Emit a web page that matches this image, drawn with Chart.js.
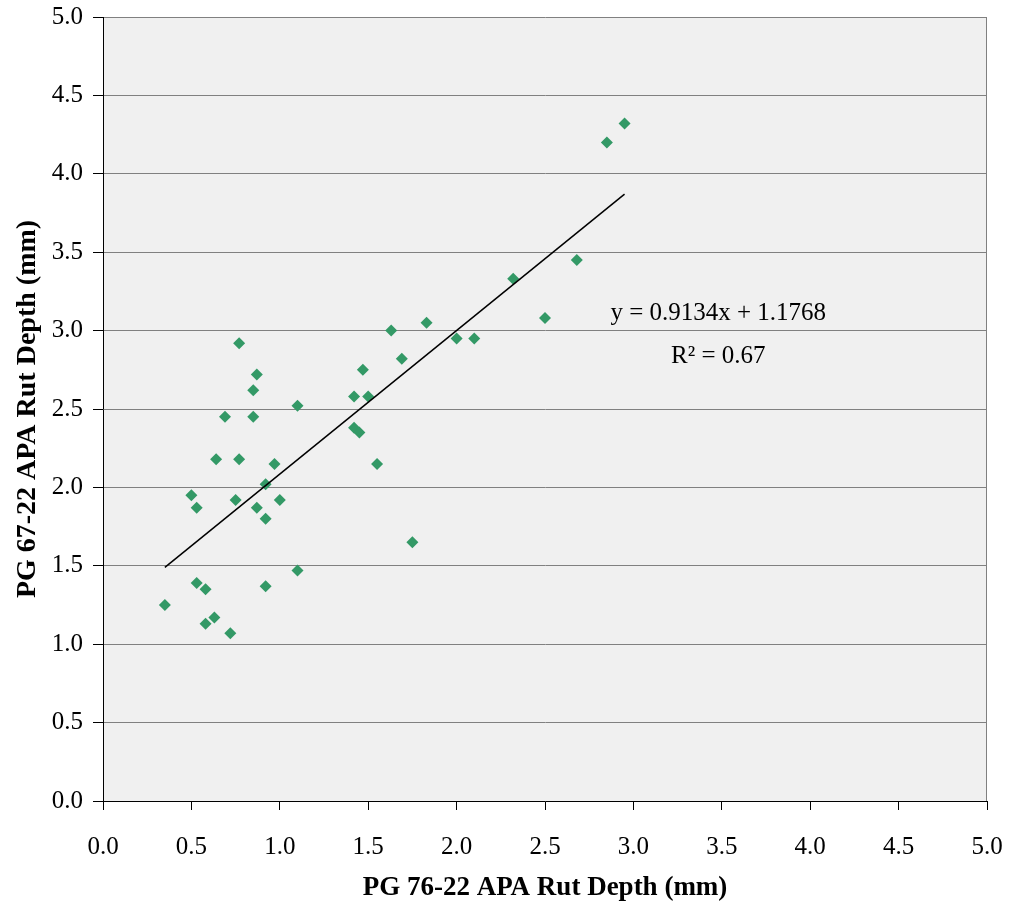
<!DOCTYPE html>
<html>
<head>
<meta charset="utf-8">
<script src="https://cdn.jsdelivr.net/npm/chart.js@4.4.1/dist/chart.umd.min.js"></script>
<style>
  html, body { margin: 0; padding: 0; background: #ffffff; }
  #wrap { width: 1012px; height: 909px; position: relative; }
</style>
</head>
<body>
<div id="wrap"><canvas id="c" width="1012" height="909"></canvas></div>
<script>
// PG 76-22 APA rut depth (x) and PG 67-22 APA rut depth (y), mm
const pg7622 = [0.35, 0.50, 0.53, 0.53, 0.58, 0.58, 0.63, 0.72, 0.64, 0.69, 0.77, 0.77, 0.75, 0.85,
                0.87, 0.85, 0.87, 0.92, 0.92, 0.92, 0.97, 1.00, 1.10, 1.10, 1.42, 1.42, 1.45, 1.47,
                1.50, 1.55, 1.63, 1.69, 1.75, 1.83, 2.00, 2.10, 2.32, 2.50, 2.68, 2.85, 2.95];
const pg6722 = [1.25, 1.95, 1.87, 1.39, 1.35, 1.13, 1.17, 1.07, 2.18, 2.45, 2.92, 2.18, 1.92, 2.62,
                2.72, 2.45, 1.87, 2.02, 1.80, 1.37, 2.15, 1.92, 2.52, 1.47, 2.58, 2.38, 2.35, 2.75,
                2.58, 2.15, 3.00, 2.82, 1.65, 3.05, 2.95, 2.95, 3.33, 3.08, 3.45, 4.20, 4.32];
// Linear trend line end points (as drawn)
const trendX = [0.35, 2.95];
const trendY = [1.49, 3.87];
const trendLabel = ["y = 0.9134x + 1.1768", "R\u00B2 = 0.67"];
const xTitle = "PG 76-22 APA Rut Depth (mm)";
const yTitle = "PG 67-22 APA Rut Depth (mm)";

const FONT = '"Liberation Serif", "Times New Roman", serif';

const scatterData = pg7622.map((x, i) => ({ x: x, y: pg6722[i] }));
const trendData = trendX.map((x, i) => ({ x: x, y: trendY[i] }));

const decor = {
  id: 'decor',
  beforeDraw(chart) {
    const { ctx, chartArea: a } = chart;
    ctx.save();
    ctx.fillStyle = '#F0F0F0';
    ctx.fillRect(a.left, a.top, a.right - a.left, a.bottom - a.top);
    ctx.restore();
  },
  afterDatasetsDraw(chart) {
    const { ctx, chartArea: a, scales } = chart;
    ctx.save();
    ctx.strokeStyle = '#808080';
    ctx.lineWidth = 1;
    ctx.beginPath();
    ctx.moveTo(Math.round(a.right) - 0.5, a.top);
    ctx.lineTo(Math.round(a.right) - 0.5, a.bottom);
    ctx.stroke();
    ctx.fillStyle = '#000';
    ctx.font = '25px ' + FONT;
    ctx.textAlign = 'center';
    ctx.textBaseline = 'alphabetic';
    const cx = scales.x.getPixelForValue(3.48);
    ctx.fillText(trendLabel[0], cx, scales.y.getPixelForValue(3.07));
    ctx.fillText(trendLabel[1], cx, scales.y.getPixelForValue(2.795));
    ctx.restore();
  }
};

new Chart(document.getElementById('c'), {
  type: 'scatter',
  data: {
    datasets: [
      {
        label: 'data',
        data: scatterData,
        pointStyle: 'rectRot',
        pointRadius: 6,
        pointHoverRadius: 6,
        backgroundColor: '#339966',
        borderColor: '#339966',
        borderWidth: 0,
        order: 2
      },
      {
        label: 'trend',
        type: 'line',
        data: trendData,
        borderColor: '#000000',
        borderWidth: 1.5,
        pointRadius: 0,
        fill: false,
        order: 1
      }
    ]
  },
  options: {
    responsive: false,
    animation: false,
    devicePixelRatio: 1,
    layout: { padding: { left: 0, right: 25, top: 17, bottom: 0 } },
    plugins: { legend: { display: false }, tooltip: { enabled: false } },
    scales: {
      x: {
        type: 'linear',
        min: 0, max: 5,
        afterFit(s) { s.height = 108; s.paddingLeft = 0; s.paddingRight = 0; },
        ticks: {
          stepSize: 0.5,
          color: '#000',
          padding: 22,
          maxRotation: 0,
          font: { family: FONT, size: 25 },
          callback: v => Number(v).toFixed(1)
        },
        grid: { drawOnChartArea: false, tickLength: 9, color: '#000', tickColor: '#000' },
        border: { color: '#000', width: 1 },
        title: {
          display: true,
          text: xTitle,
          color: '#000',
          font: { family: FONT, size: 27, weight: 'bold' },
          padding: { top: 0, bottom: 5 }
        }
      },
      y: {
        type: 'linear',
        min: 0, max: 5,
        afterFit(s) { s.width = 103; s.paddingTop = 0; s.paddingBottom = 0; },
        ticks: {
          stepSize: 0.5,
          color: '#000',
          padding: 10,
          font: { family: FONT, size: 25 },
          callback: v => Number(v).toFixed(1)
        },
        grid: { drawOnChartArea: true, tickLength: 10, color: '#808080', tickColor: '#000' },
        border: { color: '#000', width: 1 },
        title: {
          display: true,
          text: yTitle,
          color: '#000',
          font: { family: FONT, size: 28, weight: 'bold' },
          padding: { top: 11, bottom: 0 }
        }
      }
    }
  },
  plugins: [decor]
});
</script>
</body>
</html>
